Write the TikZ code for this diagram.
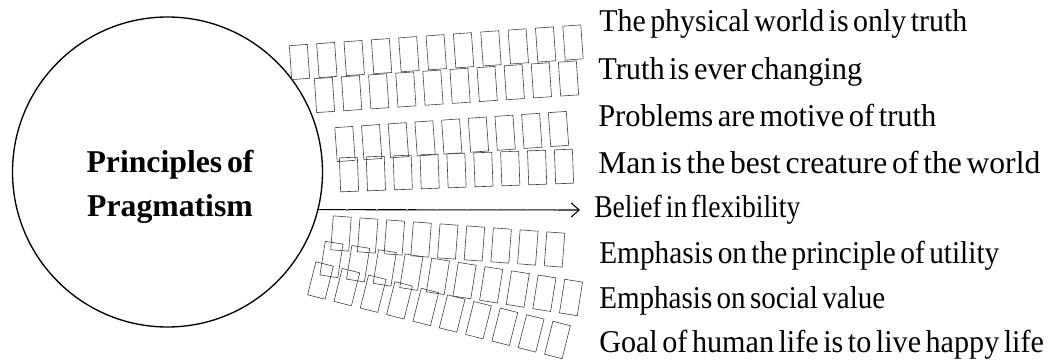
\documentclass[tikz,border=0pt]{standalone}
\usepackage{fontspec}
\setmainfont{Liberation Serif}
\newfontfamily\itemfont{Liberation Serif}[WordSpace=0.7]
\newfontfamily\titlefont{Liberation Serif}[WordSpace=0.6]
\usetikzlibrary{arrows.meta,calc}
\newcommand{\fitline}[2]{\resizebox{#1}{\height}{#2}}
\begin{document}
\begin{tikzpicture}[x=0.75pt,y=-0.75pt,
  tofu/.style={draw=black!75,line width=0.45pt,rectangle,minimum width=13.5pt,minimum height=25.5pt,inner sep=0pt},
  item/.style={anchor=base west,inner sep=0pt,font=\itemfont\fontsize{23.8pt}{28pt}\selectfont},
  title/.style={anchor=base,align=center,inner sep=0pt,font=\titlefont\bfseries\fontsize{23.8pt}{32.8pt}\selectfont},
  ring/.style={circle,draw,line width=1pt,minimum size=232.5pt,inner sep=0pt},
  arr/.style={line width=0.8pt,-{Straight Barb[length=6pt,width=10.5pt]}},
  dots/.style={black!45,line width=1.1pt,dash pattern=on 1.5pt off 21pt}]
\useasboundingbox (0,0) rectangle (1050,360);
\node[ring] (c) at (167.5,172) {};
\node[title] (t) at (170,216) {Principles of\\Pragmatism};
\node[item] (i1) at (599,32) {\fitline{276pt}{The physical world is only truth}};
\node[item] (i2) at (598,80) {\fitline{198pt}{Truth is ever changing}};
\node[item] (i3) at (598,127) {\fitline{253.5pt}{Problems are motive of truth}};
\node[item] (i4) at (598,174) {\fitline{331.5pt}{Man is the best creature of the world}};
\node[item] (i5) at (594,217) {\fitline{154.5pt}{Belief in flexibility}};
\node[item] (i6) at (599,263) {\fitline{300pt}{Emphasis on the principle of utility}};
\node[item] (i7) at (599,308) {\fitline{214.5pt}{Emphasis on social value}};
\node[item] (i8) at (599,352) {\fitline{333.5pt}{Goal of human life is to live happy life}};
\foreach \sx/\sy/\ex/\ey/\n [count=\k] in {299.5/62/573/42.5/11, 324.5/95/568.5/78.5/10, 345/144/558.5/129/9, 349/174.5/564/166.5/9, 341/233.5/554.5/249.5/9, 331.5/259.5/571/297.5/10, 320.5/280.5/557.5/340/10} {
  \coordinate (s\k) at (\sx,\sy);
  \coordinate (e\k) at (\ex,\ey);
  \pgfmathtruncatemacro\m{\n-1}
  \foreach \i in {0,...,\m} {
    \pgfmathsetmacro\p{\i/\m}
    \path (s\k) -- (e\k) node[tofu,sloped,pos=\p] {};
  }
}
\coordinate (tip) at (580,210);
\coordinate (d0) at (346,210);
\draw[arr] (c.-14.2) -- (tip);
\draw[dots] (d0) -- (tip);
\end{tikzpicture}
\end{document}
